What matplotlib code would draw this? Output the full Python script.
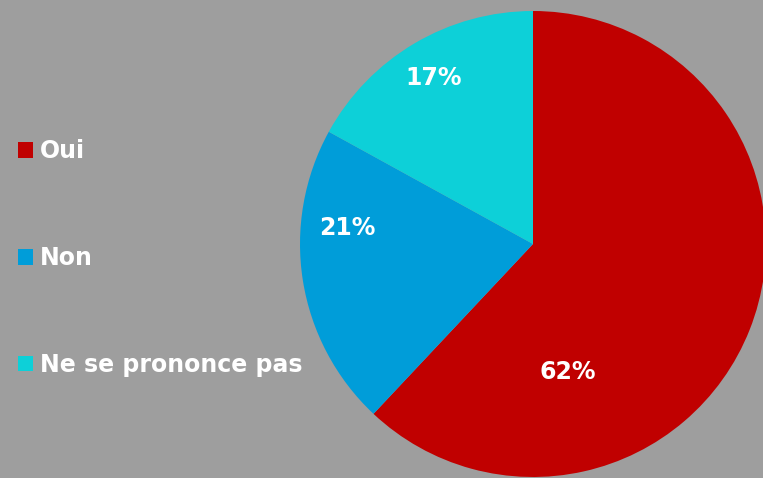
import matplotlib
matplotlib.use("Agg")
import matplotlib.pyplot as plt
import numpy as np

categories = ["Oui", "Non", "Ne se prononce pas"]
values = [62, 21, 17]
colors = ["#C00000", "#009DD9", "#0DD0D8"]
bg = "#9E9E9E"

# label placement (angle in degrees, radius fraction)
label_angles = [-75, 175, 121]
label_radii = [0.57, 0.80, 0.83]

W, H = 763, 478
fig = plt.figure(figsize=(W / 100, H / 100), dpi=100, facecolor=bg)
ax = fig.add_axes([0, 0, 1, 1])
ax.set_facecolor(bg)

cx, cy, r = 533, H - 244, 233
wedges, _ = ax.pie(values, colors=colors, startangle=90, counterclock=False,
                   center=(cx, cy), radius=r, frame=True,
                   wedgeprops=dict(linewidth=0))
ax.set_xlim(0, W)
ax.set_ylim(0, H)
ax.set_aspect("equal")
ax.axis("off")

font = "DejaVu Sans"
for v, a, f in zip(values, label_angles, label_radii):
    t = np.deg2rad(a)
    ax.text(cx + f * r * np.cos(t), cy + f * r * np.sin(t), f"{v}%",
            ha="center", va="center", color="white", fontsize=17,
            fontweight="bold", family=font)

leg = ax.legend(wedges, categories, loc="center left",
                bbox_to_anchor=(18 / W, 1 - 258 / H), frameon=False,
                prop=dict(family=font, weight="bold", size=17),
                labelcolor="white", handlelength=0.64, handleheight=0.64,
                handletextpad=0.3, labelspacing=3.5, borderpad=0,
                borderaxespad=0)

fig.savefig("out.png", dpi=100, facecolor=bg)
